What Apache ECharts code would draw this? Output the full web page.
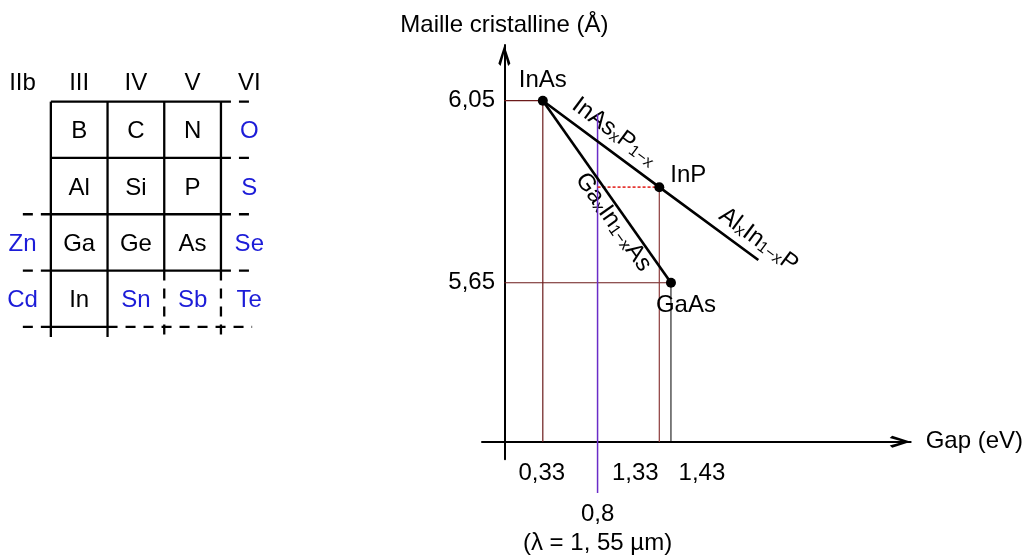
<!DOCTYPE html>
<html>
<head>
<meta charset="utf-8">
<script src="https://cdn.jsdelivr.net/npm/echarts@6/dist/echarts.min.js"></script>
<style>
  html, body { margin: 0; padding: 0; background: #fff; }
  #chart { width: 1029px; height: 556px; }
</style>
</head>
<body>
<div id="chart"></div>
<script>
// tableau périodique (colonnes IIb..VI)
const groupNames = ['IIb', 'III', 'IV', 'V', 'VI'];
const elementRows = [
  ['', 'B', 'C', 'N', 'O'],
  ['', 'Al', 'Si', 'P', 'S'],
  ['Zn', 'Ga', 'Ge', 'As', 'Se'],
  ['Cd', 'In', 'Sn', 'Sb', 'Te']
];
const notIIIV = ['O', 'S', 'Zn', 'Se', 'Cd', 'Sn', 'Sb', 'Te'];

// composés binaires : gap (eV) / maille (Å)
const compounds = ['InAs', 'InP', 'GaAs'];
const gapEV = [0.33, 1.33, 1.43];
const latticeA = [6.05, 5.86, 5.65];
const gapTickLabels = ['0,33', '1,33', '1,43'];
const latticeTicks = [5.65, 6.05];
const alInPEnd = [2.18, 5.70];

// alliages ternaires
const alloyNames = [
  '{n|InAs}{s|x}{n|P}{s|1−x}',
  '{n|Ga}{s|x}{n|In}{s|1−x}{n|As}',
  '{n|Al}{s|x}{n|In}{s|1−x}{n|P}'
];

// 1,55 µm
const telecomGap = 0.8;
const telecomSpan = [6.02, 5.188];
const telecomLabel = ['0,8', '(λ = 1, 55 µm)'];

const FONT = "'Liberation Sans', Arial, sans-serif";
const INK = '#000';
const BLUE = '#1c1cd8';
const GUIDE = '#6b1a1a';
const ARROW = 'path://M6,0 L12,18.5 L9.8,21 L6,7.5 L2.2,21 L0,18.5 Z';
const axisLevel = 5.30; // hauteur de l'axe des gaps

const chart = echarts.init(document.getElementById('chart'));

function seg(points, color, width, type, clip) {
  return {
    type: 'line', xAxisIndex: 0, yAxisIndex: 0,
    data: points, symbol: 'none', silent: true, clip: clip !== false,
    lineStyle: {color: color, width: width, type: type || 'solid'}
  };
}

const P = i => [gapEV[i], latticeA[i]];

// traits du tableau en unités colonne/ligne : [x1, y1, x2, y2, pointillé]
const tableRules = [
  [0.5, -0.5, 3.5, -0.5, 0], [3.5, -0.5, 4.0, -0.5, 1],
  [0.5, 0.5, 3.5, 0.5, 0], [3.5, 0.5, 4.0, 0.5, 1],
  [0.5, 1.5, 0.0, 1.5, 1], [0.5, 1.5, 3.5, 1.5, 0], [3.5, 1.5, 4.0, 1.5, 1],
  [0.5, 2.5, 0.0, 2.5, 1], [0.5, 2.5, 3.5, 2.5, 0], [3.5, 2.5, 4.0, 2.5, 1],
  [0.5, 3.5, 0.0, 3.5, 1], [0.5, 3.5, 1.5, 3.5, 0], [1.5, 3.5, 4.05, 3.5, 1],
  [0.5, -0.5, 0.5, 3.68, 0], [1.5, -0.5, 1.5, 3.68, 0],
  [2.5, -0.5, 2.5, 2.5, 0], [2.5, 2.5, 2.5, 3.75, 1],
  [3.5, -0.5, 3.5, 2.5, 0], [3.5, 2.5, 3.5, 3.75, 1]
];

const elementData = [];
elementRows.forEach((row, r) => {
  row.forEach((name, c) => {
    if (name) elementData.push({value: [c, r], name: name,
      label: {color: notIIIV.indexOf(name) >= 0 ? BLUE : INK}});
  });
});

const txt = {fontFamily: FONT, fontSize: 24, color: INK};
const solid = {opacity: 1};

const option = {
  animation: false,
  backgroundColor: '#fff',
  grid: [
    {left: 482, right: 118.3, top: 45, bottom: 96.7},
    {left: 2.65, top: 45.35, width: 283.5, height: 309.65}
  ],
  xAxis: [
    {
      gridIndex: 0, type: 'value', min: -0.192, max: 3.488, offset: -17.6,
      axisLine: {show: true, onZero: false, symbol: ['none', ARROW], symbolSize: [12, 21],
        symbolOffset: [0, -10.5], lineStyle: {color: INK, width: 2}},
      axisTick: {show: false}, axisLabel: {show: false}, splitLine: {show: false},
      name: 'Gap (eV)', nameLocation: 'end', nameGap: 15, nameTextStyle: txt
    },
    {gridIndex: 1, type: 'value', min: -0.35, max: 4.65, show: false}
  ],
  yAxis: [
    {
      gridIndex: 0, type: 'value', min: 5.262, max: 6.1724,
      axisLine: {show: true, onZero: true, symbol: ['none', ARROW], symbolSize: [12, 21],
        symbolOffset: [0, -10.5], lineStyle: {color: INK, width: 2}},
      axisTick: {show: false}, splitLine: {show: false},
      axisLabel: Object.assign({customValues: latticeTicks, margin: -13,
        formatter: v => v.toFixed(2).replace('.', ',')}, txt),
      name: 'Maille cristalline (Å)', nameLocation: 'end', nameGap: 8, nameTextStyle: txt
    },
    {gridIndex: 1, type: 'value', min: -1.5, max: 4, inverse: true, show: false}
  ],
  series: [
    // repères
    seg([[0, latticeA[0]], P(0), [gapEV[0], axisLevel]], GUIDE, 1.2),
    seg([[0, latticeA[2]], P(2)], GUIDE, 1.2),
    seg([P(1), [gapEV[1], axisLevel]], '#8c3a3a', 1.2),
    seg([P(2), [gapEV[2], axisLevel]], INK, 1),
    seg([[telecomGap, telecomSpan[0]], [telecomGap, telecomSpan[1]]], '#6a2cc8', 1.5, 'solid', false),
    seg([[telecomGap, latticeA[1]], P(1)], '#e53935', 1.6, [3, 2]),
    // alliages
    seg([P(0), P(1), alInPEnd], '#000', 2.6),
    seg([P(0), P(2)], '#000', 2.6),
    {
      type: 'scatter', xAxisIndex: 0, yAxisIndex: 0, symbolSize: 10, z: 5,
      itemStyle: {color: '#000', opacity: 1},
      label: Object.assign({show: true, formatter: p => p.name}, txt),
      data: [
        {name: compounds[0], value: P(0), label: {position: 'top', distance: 3}},
        {name: compounds[1], value: P(1), label: {position: 'right', distance: 6, offset: [0, -12]}},
        {name: compounds[2], value: P(2), label: {position: 'bottom', distance: 6, offset: [15, 0]}}
      ]
    },
    {
      type: 'scatter', xAxisIndex: 0, yAxisIndex: 0, symbolSize: 0, silent: true, itemStyle: solid,
      label: {show: true, position: 'inside', formatter: p => p.name,
        rich: {n: txt, s: {fontFamily: FONT, fontSize: 16, color: INK, verticalAlign: 'bottom', padding: [4, 0, 0, 0]}}},
      data: [
        {name: alloyNames[0], value: [0.943, 5.981], label: {rotate: -36.6}},
        {name: alloyNames[1], value: [0.935, 5.783], label: {rotate: -54.8}},
        {name: alloyNames[2], value: [2.181, 5.744], label: {rotate: -36.6}}
      ]
    },
    {
      type: 'scatter', xAxisIndex: 0, yAxisIndex: 0, symbolSize: 0, silent: true, itemStyle: solid,
      label: Object.assign({show: true, position: 'bottom', distance: 19, formatter: p => p.name}, txt),
      data: [
        {name: gapTickLabels[0], value: [gapEV[0], axisLevel], label: {offset: [-1, 0]}},
        {name: gapTickLabels[1], value: [gapEV[1], axisLevel], label: {offset: [-24, 0]}},
        {name: gapTickLabels[2], value: [gapEV[2], axisLevel], label: {offset: [31, 0]}}
      ]
    },
    {
      type: 'scatter', xAxisIndex: 0, yAxisIndex: 0, symbolSize: 0, silent: true, clip: false, itemStyle: solid,
      label: Object.assign({show: true, position: 'bottom', distance: 7, lineHeight: 29,
        formatter: () => telecomLabel.join('\n')}, txt),
      data: [[telecomGap, telecomSpan[1]]]
    },
    // tableau périodique
    {
      type: 'custom', xAxisIndex: 1, yAxisIndex: 1, silent: true,
      data: tableRules,
      renderItem: (params, api) => {
        const s = tableRules[params.dataIndex];
        const a = api.coord([s[0], s[1]]);
        const b = api.coord([s[2], s[3]]);
        return {
          type: 'line',
          shape: {x1: a[0], y1: a[1], x2: b[0], y2: b[1]},
          style: {stroke: INK, lineWidth: 2.3, lineDash: s[4] ? [10, 8] : null}
        };
      }
    },
    {
      type: 'scatter', xAxisIndex: 1, yAxisIndex: 1, symbolSize: 0, silent: true, itemStyle: solid,
      label: Object.assign({show: true, position: 'inside', offset: [0, 2], formatter: p => p.name}, txt),
      data: elementData
    },
    {
      type: 'scatter', xAxisIndex: 1, yAxisIndex: 1, symbolSize: 0, silent: true, itemStyle: solid,
      label: Object.assign({show: true, position: 'inside', formatter: p => p.name}, txt),
      data: groupNames.map((g, c) => ({name: g, value: [c, -0.83]}))
    }
  ]
};

chart.setOption(option);
</script>
</body>
</html>
